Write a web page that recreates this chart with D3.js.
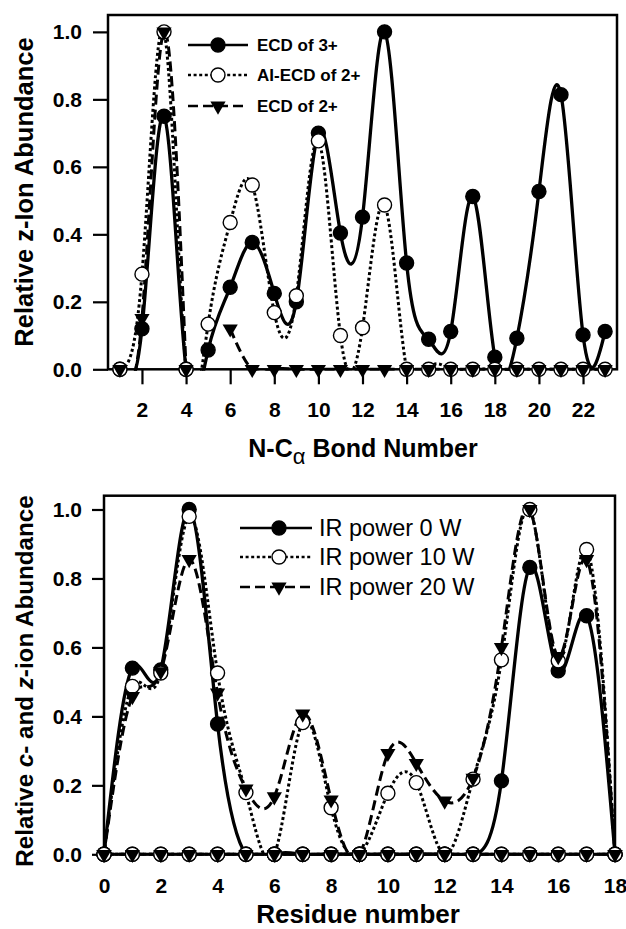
<!DOCTYPE html>
<html>
<head>
<meta charset="utf-8">
<script src="https://cdn.jsdelivr.net/npm/d3@7"></script>
<style>
  body { margin: 0; background: #fff; }
  svg { font-family: Arial, "Liberation Sans", sans-serif; }
</style>
</head>
<body>
<script>
// top panel: z-ion abundance vs N-Calpha bond number
var bondNumbers = [1,2,3,4,5,6,7,8,9,10,11,12,13,14,15,16,17,18,19,20,21,22,23];
var ecd3 =   [0, 0.12, 0.75, 0, 0.057, 0.243, 0.376, 0.225, 0.20, 0.70, 0.404, 0.451, 1.0, 0.315, 0.089, 0.112, 0.512, 0.036, 0.092, 0.527, 0.814, 0.102, 0.112];
var aiEcd2 = [0, 0.282, 1.0, 0, 0.134, 0.435, 0.546, 0.168, 0.218, 0.677, 0.10, 0.123, 0.487, 0, 0, 0, 0, 0, 0, 0, 0, 0, 0];
var ecd2 =   [0, 0.151, 1.0, 0, null, 0.12, 0, 0, 0, 0, 0, 0, 0, 0, 0, 0, 0, 0, 0, 0, 0, 0, 0];
var topLegend = ["ECD of 3+", "AI-ECD of 2+", "ECD of 2+"];
var topXTicks = [2,4,6,8,10,12,14,16,18,20,22];
var yTicks = [0, 0.2, 0.4, 0.6, 0.8, 1.0];

// bottom panel: c- and z-ion abundance vs residue number
var residues = [0,1,2,3,4,5,6,7,8,9,10,11,12,13,14,15,16,17,18];
var ir0 =  [0, 0.54, 0.535, 1.0, 0.378, 0, 0, 0, 0, 0, 0, 0, 0, 0, 0.213, 0.832, 0.532, 0.692, 0];
var ir10 = [0, 0.487, 0.526, 0.98, 0.526, 0.179, 0, 0.382, 0.135, 0, 0.177, 0.208, 0, 0.218, 0.564, 1.0, 0.561, 0.884, 0];
var ir20 = [0, 0.458, 0.53, 0.855, 0.468, 0.19, 0.167, 0.407, 0.158, 0, 0.293, 0.264, 0.155, 0.221, 0.60, 1.0, 0.574, 0.855, 0];
// second ion type, nothing detected
var ir0z =  [0,0,0,0,0,0,0,0,0,0,0,0,0,0,0,0,0,0,0];
var ir10z = [0,0,0,0,0,0,0,0,0,0,0,0,0,0,0,0,0,0,0];
var ir20z = [0,0,0,0,0,0,0,0,0,0,0,0,0,0,0,0,0,0,0];
var bottomLegend = ["IR power 0 W", "IR power 10 W", "IR power 20 W"];
var bottomXTicks = [0,2,4,6,8,10,12,14,16,18];

var width = 626, height = 929;

var svg = d3.select("body").append("svg")
    .attr("width", width)
    .attr("height", height);

// line styles: 0 solid/filled circle, 1 dotted/open circle, 2 dashed/triangle
var dash = ["none", "3,2.6", "10,5"];
var lw = [3.3, 3, 3];

function marker(g, style, x, y) {
  if (style == 2) {
    g.append("path")
      .attr("d", d3.symbol(d3.symbolTriangle, 100)())
      .attr("transform", "translate(" + x + "," + y + ") rotate(180)")
      .attr("fill", "#000");
  } else {
    g.append("circle")
      .attr("cx", x).attr("cy", y).attr("r", 7)
      .attr("fill", style == 0 ? "#000" : "#fff")
      .attr("stroke", "#000")
      .attr("stroke-width", 1.4);
  }
}

function panel(opt) {
  var x = d3.scaleLinear().domain(opt.xDomain).range([opt.left, opt.right]);
  var y = d3.scaleLinear().domain(opt.yDomain).range([opt.bottom, opt.top]);
  var g = svg.append("g");

  g.append("clipPath").attr("id", opt.id)
    .append("rect")
    .attr("x", opt.left).attr("y", opt.top)
    .attr("width", opt.right - opt.left)
    .attr("height", opt.bottom - opt.top + 1.5);

  // axes
  var ya = g.append("g")
    .attr("transform", "translate(" + opt.left + ",0)")
    .call(d3.axisLeft(y).tickValues(yTicks).tickFormat(d3.format(".1f"))
      .tickSize(opt.yTickSize).tickPadding(opt.yTickPad));
  var xa = g.append("g")
    .attr("transform", "translate(0," + opt.bottom + ")")
    .call(d3.axisBottom(x).tickValues(opt.xTicks).tickFormat(d3.format("d"))
      .tickSize(opt.xTickSize).tickPadding(opt.xTickPad));
  [ya, xa].forEach(function(a) {
    a.select(".domain").remove();
    a.selectAll("line").attr("stroke", "#000").attr("stroke-width", 2.2);
    a.selectAll("text").attr("font-size", 21).attr("font-weight", "bold").attr("fill", "#000");
  });

  g.append("rect")
    .attr("x", opt.left).attr("y", opt.top)
    .attr("width", opt.right - opt.left)
    .attr("height", opt.bottom - opt.top)
    .attr("fill", "none").attr("stroke", "#000").attr("stroke-width", 2.5);

  var line = d3.line()
    .defined(function(d) { return d[1] != null; })
    .x(function(d) { return x(d[0]); })
    .y(function(d) { return y(d[1]); })
    .curve(d3.curveNatural);

  var lines = g.append("g").attr("clip-path", "url(#" + opt.id + ")");
  opt.series.forEach(function(s) {
    var pts = opt.xs.map(function(v, i) { return [v, s.values[i]]; });
    lines.append("path")
      .attr("d", line(pts))
      .attr("fill", "none")
      .attr("stroke", "#000")
      .attr("stroke-width", lw[s.style])
      .attr("stroke-dasharray", dash[s.style])
      .attr("stroke-linejoin", "round");
  });

  var marks = g.append("g");
  opt.series.forEach(function(s) {
    opt.xs.forEach(function(v, i) {
      if (s.values[i] == null) return;
      marker(marks, s.style, x(v), y(s.values[i]));
    });
  });

  // legend
  var lg = g.append("g");
  opt.legend.forEach(function(name, i) {
    var ly = opt.legendY[i];
    lg.append("line")
      .attr("x1", opt.legendX[0]).attr("x2", opt.legendX[2])
      .attr("y1", ly).attr("y2", ly)
      .attr("stroke", "#000")
      .attr("stroke-width", lw[i] * 0.8)
      .attr("stroke-dasharray", dash[i]);
    marker(lg, i, opt.legendX[1], ly);
    lg.append("text")
      .attr("x", opt.legendX[3]).attr("y", ly)
      .attr("dy", "0.36em")
      .attr("font-size", opt.legendFont)
      .attr("font-weight", opt.legendWeight)
      .text(name);
  });

  return g;
}

var topPanel = panel({
  id: "clipTop",
  left: 108, right: 617, top: 15, bottom: 369.3,
  xDomain: [0.46, 23.54], yDomain: [0, 1.05],
  xs: bondNumbers, xTicks: topXTicks,
  xTickSize: 15, xTickPad: 18, yTickSize: 15, yTickPad: 11,
  series: [
    { values: ecd3, style: 0 },
    { values: aiEcd2, style: 1 },
    { values: ecd2, style: 2 }
  ],
  legend: topLegend,
  legendY: [45, 75, 106],
  legendX: [188, 218, 248, 257],
  legendFont: 17, legendWeight: "bold"
});

topPanel.append("text")
  .attr("transform", "translate(32.5,192) rotate(-90)")
  .attr("text-anchor", "middle")
  .attr("font-size", 25.5).attr("font-weight", "bold")
  .text("Relative z-Ion Abundance");

var xt = topPanel.append("text")
  .attr("x", 363).attr("y", 457)
  .attr("text-anchor", "middle")
  .attr("font-size", 25).attr("font-weight", "bold");
xt.append("tspan").text("N-C");
xt.append("tspan").attr("font-weight", "normal").attr("font-size", 22)
  .attr("baseline-shift", "-30%").text("\u03b1");
xt.append("tspan").text(" Bond Number");

var bottomPanel = panel({
  id: "clipBottom",
  left: 104, right: 615, top: 495.7, bottom: 854.3,
  xDomain: [0, 18], yDomain: [0, 1.04],
  xs: residues, xTicks: bottomXTicks,
  xTickSize: 8, xTickPad: 16, yTickSize: 12, yTickPad: 10,
  series: [
    { values: ir0, style: 0 },
    { values: ir10, style: 1 },
    { values: ir20, style: 2 },
    { values: ir0z, style: 0 },
    { values: ir10z, style: 1 },
    { values: ir20z, style: 2 }
  ],
  legend: bottomLegend,
  legendY: [528, 557, 587],
  legendX: [240, 279, 312, 319],
  legendFont: 23.5, legendWeight: "normal"
});

var yl = bottomPanel.append("text")
  .attr("transform", "translate(33,681) rotate(-90)")
  .attr("text-anchor", "middle")
  .attr("font-size", 24.2).attr("font-weight", "bold");
yl.append("tspan").text("Relative ");
yl.append("tspan").attr("font-style", "italic").text("c");
yl.append("tspan").text("- and ");
yl.append("tspan").attr("font-style", "italic").text("z");
yl.append("tspan").text("-ion Abundance");

bottomPanel.append("text")
  .attr("x", 358).attr("y", 923)
  .attr("text-anchor", "middle")
  .attr("font-size", 26).attr("font-weight", "bold")
  .text("Residue number");
</script>
</body>
</html>
